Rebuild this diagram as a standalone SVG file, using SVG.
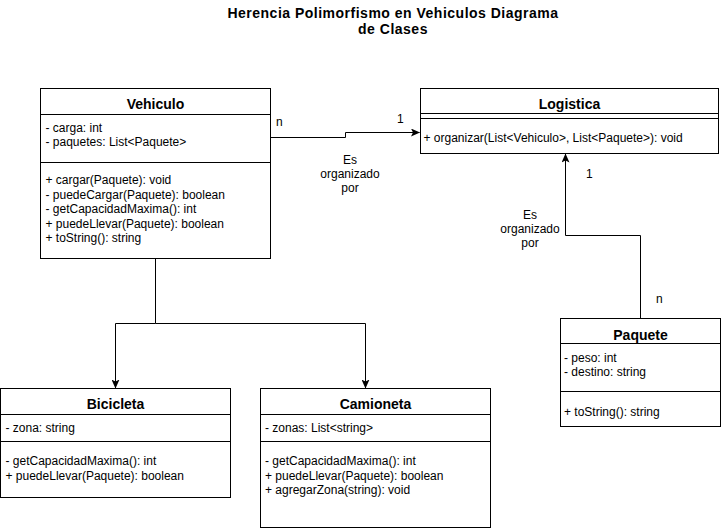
<svg xmlns="http://www.w3.org/2000/svg" width="721" height="531" viewBox="0 0 721 531">
<defs>
<style>
text{font-family:"Liberation Sans",Arial,Helvetica,sans-serif;fill:#000}
.t{font-size:12px}
.h{font-size:14px;font-weight:bold;text-anchor:middle}
.c{text-anchor:middle}
.title{font-size:14px;font-weight:bold;text-anchor:middle;letter-spacing:0.5px}
.box{fill:#fff;stroke:#000;stroke-width:1}
.ln{stroke:#000;stroke-width:1;fill:none}
.edge{stroke:#000;stroke-width:1;fill:none;marker-end:url(#arr)}
</style>
<marker id="arr" viewBox="0 0 9 8" markerWidth="9" markerHeight="8" refX="8.5" refY="4" orient="auto" markerUnits="userSpaceOnUse">
<path d="M0,0 L9,4 L0,8 L2,4 Z" fill="#000"/>
</marker>
</defs>
<rect width="721" height="531" fill="#fff"/>

<g id="title">
<text class="title" x="393" y="17.5">Herencia Polimorfismo en Vehiculos Diagrama</text>
<text class="title" x="393" y="34">de Clases</text>
</g>

<g id="connectors">
<path class="edge" d="M155.5,258.5 V323.5 H115.5 V388"/>
<path class="edge" d="M155.5,323.5 H365.5 V388"/>
<path class="edge" d="M270.5,137.5 H345.5 V132.5 H419.5"/>
<path class="edge" d="M640.5,318.5 V235.5 H565.5 V154"/>
<text class="t" x="276" y="126">n</text>
<text class="t" x="397" y="123">1</text>
<text class="t c" x="350" y="164">Es</text>
<text class="t c" x="350" y="178">organizado</text>
<text class="t c" x="350" y="192">por</text>
<text class="t" x="586" y="178">1</text>
<text class="t" x="656" y="303">n</text>
<text class="t c" x="530" y="219">Es</text>
<text class="t c" x="530" y="233">organizado</text>
<text class="t c" x="530" y="247">por</text>
</g>

<g id="Vehiculo">
<rect class="box" x="40.5" y="88.5" width="230" height="170"/>
<path class="ln" d="M40.5,114.5 H270.5 M40.5,162.5 H270.5"/>
<text class="h" x="155.5" y="109">Vehiculo</text>
<text class="t" x="45.5" y="132">- carga: int</text>
<text class="t" x="45.5" y="146">- paquetes: List&lt;Paquete&gt;</text>
<text class="t" x="45.5" y="184">+ cargar(Paquete): void</text>
<text class="t" x="45.5" y="199">- puedeCargar(Paquete): boolean</text>
<text class="t" x="45.5" y="213">- getCapacidadMaxima(): int</text>
<text class="t" x="45.5" y="228">+ puedeLlevar(Paquete): boolean</text>
<text class="t" x="45.5" y="242">+ toString(): string</text>
</g>

<g id="Logistica">
<rect class="box" x="420.5" y="88.5" width="298" height="65"/>
<path class="ln" d="M420.5,113.5 H718.5 M420.5,118.5 H718.5"/>
<text class="h" x="569.5" y="109">Logistica</text>
<text class="t" x="423.5" y="142">+ organizar(List&lt;Vehiculo&gt;, List&lt;Paquete&gt;): void</text>
</g>

<g id="Paquete">
<rect class="box" x="560.5" y="318.5" width="160" height="108"/>
<path class="ln" d="M560.5,343.5 H720.5 M560.5,391.5 H720.5"/>
<text class="h" x="640.5" y="340">Paquete</text>
<text class="t" x="564" y="362">- peso: int</text>
<text class="t" x="564" y="376">- destino: string</text>
<text class="t" x="564" y="416">+ toString(): string</text>
</g>

<g id="Bicicleta">
<rect class="box" x="0.5" y="388.5" width="230" height="109"/>
<path class="ln" d="M0.5,414.5 H230.5 M0.5,441.5 H230.5"/>
<text class="h" x="115.5" y="409">Bicicleta</text>
<text class="t" x="5.5" y="432">- zona: string</text>
<text class="t" x="5.5" y="465">- getCapacidadMaxima(): int</text>
<text class="t" x="5.5" y="479.5">+ puedeLlevar(Paquete): boolean</text>
</g>

<g id="Camioneta">
<rect class="box" x="260.5" y="388.5" width="230" height="139"/>
<path class="ln" d="M260.5,414.5 H490.5 M260.5,441.5 H490.5"/>
<text class="h" x="375.5" y="409">Camioneta</text>
<text class="t" x="265" y="432">- zonas: List&lt;string&gt;</text>
<text class="t" x="265" y="465">- getCapacidadMaxima(): int</text>
<text class="t" x="265" y="479.5">+ puedeLlevar(Paquete): boolean</text>
<text class="t" x="265" y="494">+ agregarZona(string): void</text>
</g>
</svg>
